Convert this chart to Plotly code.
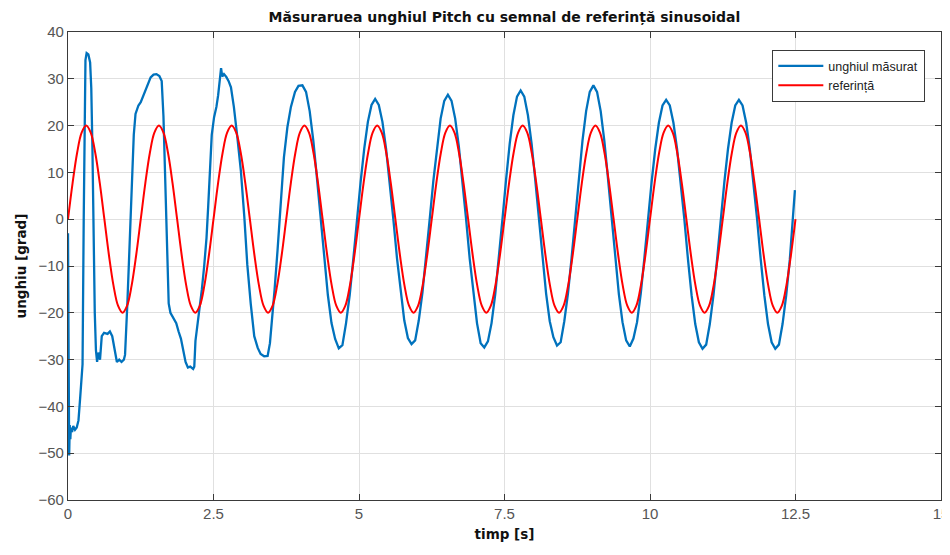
import numpy as np
import plotly.graph_objects as go

# ---------------- data ----------------
# reference signal (sinusoid, amplitude 20, period 1.25 s), sampled every 0.078125 s
ref_step = 0.078125
ref_values = [
    0, 7.65, 14.14, 18.48, 20, 18.48, 14.14, 7.65, 0, -7.65, -14.14, -18.48, -20, -18.48, -14.14, -7.65,
    0, 7.65, 14.14, 18.48, 20, 18.48, 14.14, 7.65, 0, -7.65, -14.14, -18.48, -20, -18.48, -14.14, -7.65,
    0, 7.65, 14.14, 18.48, 20, 18.48, 14.14, 7.65, 0, -7.65, -14.14, -18.48, -20, -18.48, -14.14, -7.65,
    0, 7.65, 14.14, 18.48, 20, 18.48, 14.14, 7.65, 0, -7.65, -14.14, -18.48, -20, -18.48, -14.14, -7.65,
    0, 7.65, 14.14, 18.48, 20, 18.48, 14.14, 7.65, 0, -7.65, -14.14, -18.48, -20, -18.48, -14.14, -7.65,
    0, 7.65, 14.14, 18.48, 20, 18.48, 14.14, 7.65, 0, -7.65, -14.14, -18.48, -20, -18.48, -14.14, -7.65,
    0, 7.65, 14.14, 18.48, 20, 18.48, 14.14, 7.65, 0, -7.65, -14.14, -18.48, -20, -18.48, -14.14, -7.65,
    0, 7.65, 14.14, 18.48, 20, 18.48, 14.14, 7.65, 0, -7.65, -14.14, -18.48, -20, -18.48, -14.14, -7.65,
    0, 7.65, 14.14, 18.48, 20, 18.48, 14.14, 7.65, 0, -7.65, -14.14, -18.48, -20, -18.48, -14.14, -7.65,
    0, 7.65, 14.14, 18.48, 20, 18.48, 14.14, 7.65, 0, -7.65, -14.14, -18.48, -20, -18.48, -14.14, -7.65,
    0,
]

# measured angle, transient part (irregular sample times)
meas_t_start = [
    0.0, 0.01, 0.02, 0.03, 0.04, 0.05, 0.07, 0.09, 0.12, 0.15, 0.18, 0.21, 0.23, 0.25,
    0.27, 0.285, 0.30, 0.32, 0.35, 0.38, 0.40, 0.42, 0.44, 0.46, 0.48, 0.50, 0.52, 0.55,
    0.58, 0.62, 0.68, 0.72, 0.76, 0.80, 0.84, 0.88, 0.92, 0.96, 0.98, 1.02, 1.06, 1.10,
    1.13, 1.16, 1.21, 1.25, 1.30, 1.34, 1.38, 1.42, 1.47, 1.52, 1.57, 1.61, 1.64, 1.67,
    1.70, 1.73, 1.76, 1.78, 1.82, 1.86, 1.90, 1.94, 1.98, 2.02, 2.06, 2.10, 2.15, 2.17,
    2.19, 2.22, 2.26, 2.30, 2.34, 2.38, 2.41, 2.44, 2.47, 2.51, 2.55, 2.58, 2.61, 2.63,
    2.65, 2.68, 2.72, 2.76, 2.80, 2.85, 2.91, 2.97, 3.03, 3.08, 3.14, 3.20, 3.26, 3.31,
    3.37, 3.43, 3.47, 3.51, 3.55, 3.60, 3.66, 3.71, 3.77, 3.83, 3.90, 3.96,
]
meas_v_start = [
    -3, -20, -50.5, -44, -47, -44.5, -45.5, -44.2, -45, -44.5, -43, -38, -35, -31,
    0, 25, 34, 35.5, 35.2, 33.5, 28, 15, -5, -20, -28, -30.5, -28.5, -30,
    -25, -24.3, -24.5, -24, -25, -28, -30.5, -30, -30.5, -30, -29, -18, -6, 8,
    18, 22.5, 24.3, 25, 26.5, 27.5, 29, 30.3, 30.9, 31, 30.6, 29.5, 22, 8,
    -6, -18, -20, -20.5, -21.5, -22.2, -24, -25.5, -28, -30.5, -31.7, -31.5, -32, -31.5,
    -26, -23, -20, -15, -10, -4, 3, 12, 18, 21.8, 24, 26.5, 30, 32.3,
    30.5, 31, 30.4, 29.5, 28.2, 24, 17.5, 10.4, 0.4, -9.6, -18.1, -25, -27.5, -28.8,
    -29.3, -29.2, -26.5, -21, -15, -6.7, 3.3, 13.2, 19.7, 24, 27.2, 28.5,
]

# measured angle, steady oscillation part: sampled every 0.0625 s starting at 4.0275 s
meas_step = 0.0625
meas_t0 = 4.0275
meas_v_steady = [
    28.6, 27.2, 23.1, 16.8, 8.8, 0, -8.5, -16.2, -22.2, -25.6, -27.6, -26.9, -22.2, -16.2, -8.5, 0, 7.9, 15.1, 20.8, 24.4,
    25.7, 24.4, 20.8, 15.1, 7.9, 0, -8.3, -15.7, -21.6, -25.4, -26.7, -25.9, -21.6, -15.7, -8.3, 0, 8.2, 15.6, 21.5, 25.3,
    26.6, 25.3, 21.5, 15.6, 8.2, 0, -8.5, -16.1, -22.2, -26.5, -27.4, -26.1, -22.2, -16.1, -8.5, 0, 8.5, 16.2, 22.2, 26.2,
    27.5, 26.2, 22.2, 16.2, 8.5, 0, -8.3, -15.9, -21.8, -25.2, -27.0, -26.3, -21.8, -15.9, -8.3, 0, 8.8, 16.8, 23.1, 27.2,
    28.6, 27.2, 23.1, 16.8, 8.8, 0, -8.4, -16.0, -22.0, -25.9, -27.2, -25.5, -22.0, -16.0, -8.4, 0, 7.9, 15.0, 20.6, 24.3,
    25.5, 24.3, 20.6, 15.0, 7.9, 0, -8.6, -16.3, -22.4, -26.3, -27.7, -26.8, -22.4, -16.3, -8.6, 0, 7.9, 15.0, 20.6, 24.3,
    25.5, 24.3, 20.6, 15.0, 7.9, 0, -8.6, -16.3, -22.4, -26.3, -27.7, -26.8, -22.4, -16.3, -8.6, 1.5,
]
meas_t_end = [12.49]
meas_v_end = [6.2]

x_ticks = [0, 2.5, 5, 7.5, 10, 12.5, 15]
x_tick_labels = ["0", "2.5", "5", "7.5", "10", "12.5", "15"]
y_ticks = [-60, -50, -40, -30, -20, -10, 0, 10, 20, 30, 40]

title_text = "Măsuraruea unghiul Pitch cu semnal de referință sinusoidal"
x_title = "timp [s]"
y_title = "unghiu [grad]"
name_meas = "unghiul măsurat"
name_ref = "referință"

# ---------------- assemble ----------------
ref_t = [round(i * ref_step, 6) for i in range(len(ref_values))]
steady_t = [round(meas_t0 + i * meas_step, 5) for i in range(len(meas_v_steady))]
meas_t = meas_t_start + steady_t + meas_t_end
meas_v = meas_v_start + meas_v_steady + meas_v_end

fig = go.Figure()
fig.add_trace(go.Scatter(x=meas_t, y=meas_v, mode="lines", name=name_meas, legendgroup="a",
                         line=dict(color="#0072BD", width=2.3)))
fig.add_trace(go.Scatter(x=ref_t, y=ref_values, mode="lines", name=name_ref, legendgroup="b",
                         line=dict(color="#FF0000", width=2, shape="spline")))

axis_common = dict(
    showline=True, linecolor="#3a3a3a", linewidth=1.3, mirror="ticks",
    ticks="inside", ticklen=6, tickcolor="#3a3a3a", tickwidth=1,
    showgrid=True, gridcolor="#e0e0e0", gridwidth=1, zeroline=False,
    automargin=False, ticklabeloverflow="allow",
    tickfont=dict(family="Liberation Sans, Arial, sans-serif", size=15, color="#555555"),
)

bold_font = "DejaVu Sans, Liberation Sans, sans-serif"

fig.update_layout(
    width=942, height=547,
    paper_bgcolor="white", plot_bgcolor="white",
    margin=dict(l=60, r=9, t=24, b=55),
    title=dict(text="<b>" + title_text + "</b>", x=0.5, xref="paper", xanchor="center",
               y=1 - 9 / 547, yanchor="middle",
               font=dict(family=bold_font, size=14, color="#111111")),
    xaxis=dict(range=[0, 15], tickvals=x_ticks, ticktext=x_tick_labels,
               title=dict(text="<b>" + x_title + "</b>", standoff=8,
                          font=dict(family=bold_font, size=13.5, color="#111111")),
               **axis_common),
    yaxis=dict(range=[-60, 40], tickvals=y_ticks,
               title=dict(text="<b>" + y_title + "</b>", standoff=8,
                          font=dict(family=bold_font, size=13.5, color="#111111")),
               **axis_common),
    legend=dict(x=0.9817, y=0.9615, xanchor="right", yanchor="top",
                bgcolor="white", bordercolor="#3a3a3a", borderwidth=1.3,
                font=dict(family="Liberation Sans, Arial, sans-serif", size=12.5, color="#222222"),
                tracegroupgap=0, itemwidth=45),
    showlegend=True,
)

fig.write_html("out.html")
